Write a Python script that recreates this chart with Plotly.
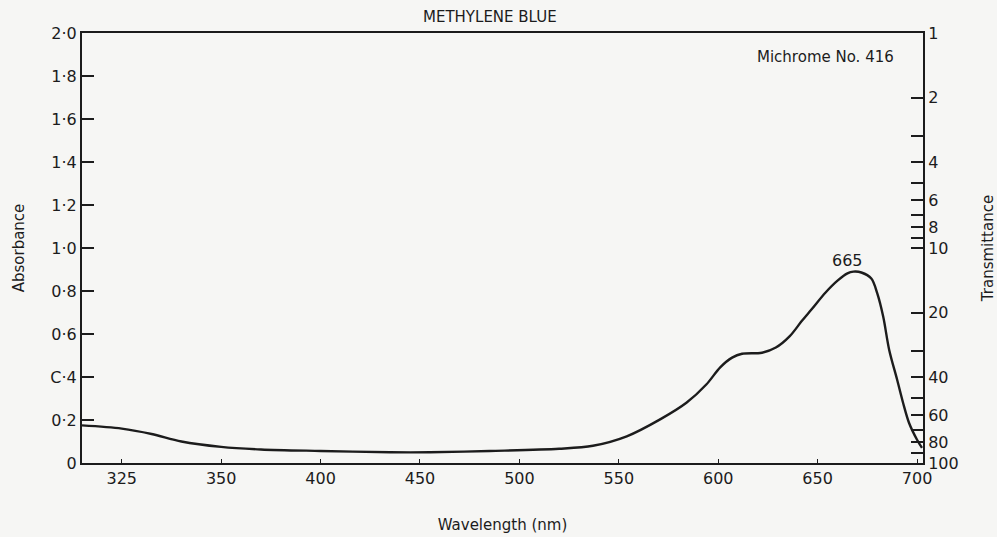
import plotly.graph_objects as go

# Data (x in the chart's linear plotting scale, nm)
wavelength = [280, 300, 315, 330, 350, 370, 400, 435, 455, 485, 520, 537, 554, 571,
              584, 594, 601, 607, 612, 622, 629, 636, 642, 647, 654, 660, 665, 668,
              672, 677, 680, 683, 686, 690, 693, 696, 700, 702.5]
absorbance = [0.175, 0.16, 0.135, 0.10, 0.075, 0.063, 0.056, 0.050, 0.050, 0.056, 0.066,
              0.08, 0.124, 0.204, 0.28, 0.365, 0.445, 0.49, 0.508, 0.513, 0.537, 0.59,
              0.66, 0.715, 0.793, 0.848, 0.882, 0.89, 0.886, 0.858, 0.789, 0.68,
              0.526, 0.387, 0.279, 0.186, 0.108, 0.07]

x_tickvals = [300, 350, 400, 450, 500, 550, 600, 650, 700]
x_ticktext = ["325", "350", "400", "450", "500", "550", "600", "650", "700"]

a_tickvals = [0, 0.2, 0.4, 0.6, 0.8, 1.0, 1.2, 1.4, 1.6, 1.8, 2.0]
a_ticktext = ["0", "0·2", "C·4", "0·6", "0·8", "1·0", "1·2", "1·4", "1·6", "1·8", "2·0"]

t_tickvals = [1, 2, 3, 4, 5, 6, 7, 8, 9, 10, 20, 30, 40, 50, 60, 70, 80, 90, 100]
t_ticktext = ["1", "2", "", "4", "", "6", "", "8", "", "10", "20", "", "40", "", "60", "", "80", "", "100"]

ink = "#1c1c1c"
paper = "#f6f6f4"
font_family = "DejaVu Sans, Liberation Sans, sans-serif"

fig = go.Figure()
fig.add_trace(go.Scatter(x=wavelength, y=absorbance, mode="lines",
                         line=dict(color=ink, width=2.4, shape="spline", smoothing=0.9),
                         showlegend=False, hoverinfo="skip"))
# invisible trace to activate right axis
fig.add_trace(go.Scatter(x=[wavelength[0]], y=[1], yaxis="y2", mode="markers",
                         marker=dict(opacity=0), showlegend=False, hoverinfo="skip"))

fig.update_layout(
    width=997, height=537,
    margin=dict(l=82, r=74, t=33, b=74),
    paper_bgcolor=paper, plot_bgcolor=paper,
    font=dict(family=font_family, color=ink, size=16),
    xaxis=dict(range=[280, 703], tickvals=x_tickvals, ticktext=x_ticktext,
               ticks="inside", ticklen=4, tickwidth=1.2, tickcolor=ink,
               showline=True, linecolor=ink, linewidth=2, mirror=True,
               showgrid=False, zeroline=False, automargin=False,
               tickfont=dict(size=16),
               title=dict(text="Wavelength (nm)", font=dict(size=15), standoff=32)),
    yaxis=dict(range=[0, 2.0], tickvals=a_tickvals, ticktext=a_ticktext,
               ticks="inside", ticklen=12, tickwidth=1.5, tickcolor=ink,
               showline=True, linecolor=ink, linewidth=2, automargin=False,
               showgrid=False, zeroline=False, tickfont=dict(size=16),
               title=dict(text="Absorbance", font=dict(size=15), standoff=22)),
    yaxis2=dict(type="log", range=[2, 0], overlaying="y", side="right",
                tickvals=t_tickvals, ticktext=t_ticktext,
                ticks="inside", ticklen=12, tickwidth=1.5, tickcolor=ink,
                showline=True, linecolor=ink, linewidth=2, automargin=False,
                showgrid=False, zeroline=False, tickfont=dict(size=16),
                title=dict(text="Transmittance", font=dict(size=15), standoff=25)),
)

fig.add_annotation(text="METHYLENE BLUE", x=0.485, y=1.0, xref="paper", yref="paper",
                   xanchor="center", yanchor="bottom", yshift=5, showarrow=False,
                   font=dict(size=15))
fig.add_annotation(text="Michrome No. 416", x=0.968, y=0.945, xref="paper", yref="paper",
                   xanchor="right", yanchor="middle", showarrow=False, font=dict(size=15))
fig.add_annotation(text="665", x=665, y=0.89, xref="x", yref="y",
                   xanchor="center", yanchor="bottom", yshift=0, showarrow=False,
                   font=dict(size=16))

fig.write_html("out.html",
               config={"displayModeBar": False},
               post_script="document.body.style.margin='0px';"
                           "document.body.style.overflow='hidden';"
                           "document.body.style.background='#f6f6f4';")
